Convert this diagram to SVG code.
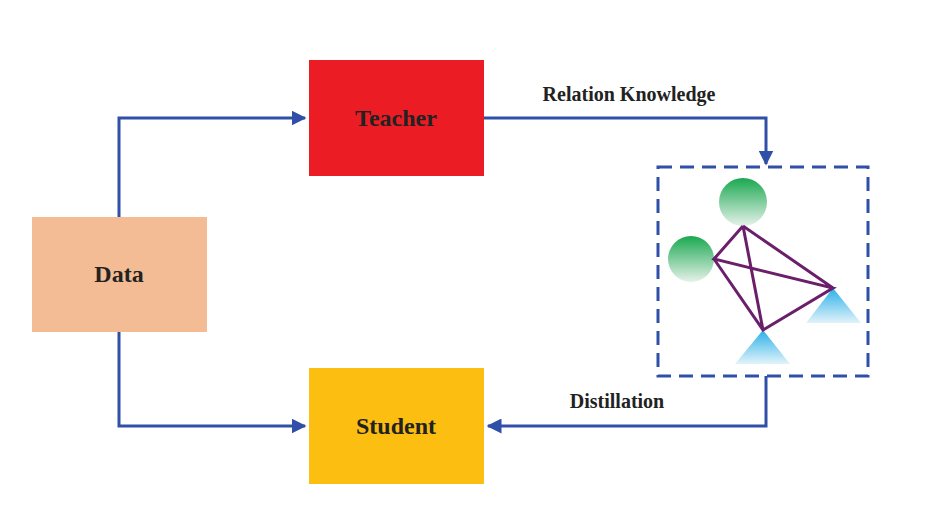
<svg xmlns="http://www.w3.org/2000/svg" width="925" height="505" viewBox="0 0 925 505">
<defs>
<style>
.lbl{font-family:"Liberation Serif",serif;font-weight:bold;fill:#222}
.c{fill:none;stroke:#3050a8;stroke-width:3}
.e{stroke:#6b1f6b;stroke-width:3;fill:none}
</style>
<marker id="a" viewBox="0 0 10 10" refX="9" refY="5" markerWidth="5" markerHeight="5" orient="auto" markerUnits="strokeWidth"><path d="M0,0L10,5L0,10z" fill="#3050a8"/></marker>
<linearGradient id="g" x1="0" y1="0" x2="0" y2="1"><stop offset="0" stop-color="#1aa850"/><stop offset="1" stop-color="#e6f2ea"/></linearGradient>
<linearGradient id="b" x1="0" y1="0" x2="0" y2="1"><stop offset="0" stop-color="#2ab0e8"/><stop offset="1" stop-color="#e2f3fa"/></linearGradient>
</defs>
<rect width="925" height="505" fill="#fff"/>
<g id="connectors">
<path class="c" d="M119,217V118H305" marker-end="url(#a)"/>
<path class="c" d="M119,332V426H305" marker-end="url(#a)"/>
<path class="c" d="M484,118H766V164" marker-end="url(#a)"/>
<path class="c" d="M766,376V426H488" marker-end="url(#a)"/>
<text class="lbl" x="629" y="101" font-size="20" text-anchor="middle">Relation Knowledge</text>
<text class="lbl" x="617" y="408" font-size="20" text-anchor="middle">Distillation</text>
</g>
<g id="data"><rect x="32" y="217" width="175" height="115" fill="#f4bc94"/><text class="lbl" x="119" y="282" font-size="24" text-anchor="middle">Data</text></g>
<g id="teacher"><rect x="309" y="60" width="175" height="116" fill="#ec1c24"/><text class="lbl" x="396" y="126" font-size="24" text-anchor="middle">Teacher</text></g>
<g id="student"><rect x="309" y="368" width="175" height="116" fill="#fcbe10"/><text class="lbl" x="396" y="434" font-size="24" text-anchor="middle">Student</text></g>
<g id="relation">
<rect x="658" y="167" width="210" height="209" fill="none" stroke="#3050a8" stroke-width="3" stroke-dasharray="14,8"/>
<circle cx="743" cy="202" r="24" fill="url(#g)"/>
<circle cx="691" cy="259" r="23" fill="url(#g)"/>
<polygon points="833,288 861,323 806,323" fill="url(#b)"/>
<polygon points="763,330 790,364 735,364" fill="url(#b)"/>
<path class="e" d="M743,226L714,259L833,288L763,330L714,259M743,226L833,288M743,226L763,330"/>
</g>
</svg>
